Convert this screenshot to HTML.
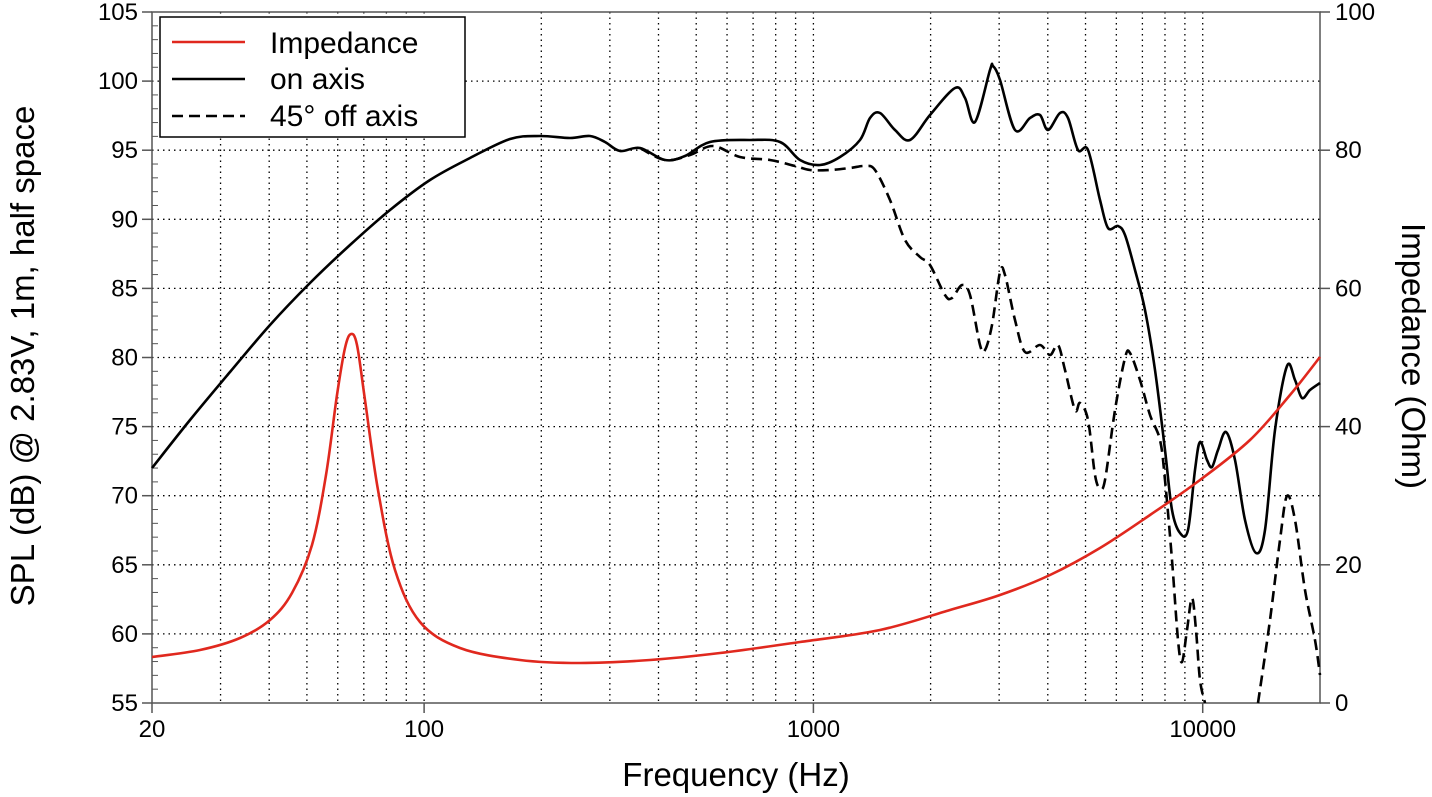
<!DOCTYPE html>
<html><head><meta charset="utf-8"><style>
html,body{margin:0;padding:0;background:#fff;}
svg{display:block;font-family:"Liberation Sans",Arial,sans-serif;}
</style></head><body>
<svg id="s" width="1432" height="797" xmlns="http://www.w3.org/2000/svg"></svg>
<script>
const s=document.getElementById('s');
const L=152,R=1320,T=12,B=703;
const xf=f=>L+389.3*Math.log10(f/20);
const yd=d=>T+(105-d)*13.82;
let h='';
const fs=[];
for(let dec of [10,100,1000,10000])for(let m=1;m<10;m++){const f=dec*m;if(f>20&&f<20000)fs.push(f);}
fs.forEach(f=>{const x=xf(f);h+=`<line x1="${x}" y1="${T}" x2="${x}" y2="${B}" stroke="#000" stroke-width="1.3" stroke-dasharray="1.5,4"/>`;});
for(let d=60;d<=100;d+=5){const y=yd(d);h+=`<line x1="${L}" y1="${y}" x2="${R}" y2="${y}" stroke="#000" stroke-width="1.3" stroke-dasharray="1.5,4"/>`;}
for(let d=56;d<105;d++){if(d%5)h+=`<line x1="${L}" y1="${yd(d)}" x2="${L+6}" y2="${yd(d)}" stroke="#555" stroke-width="1"/>`;}
h+=`<rect x="${L}" y="${T}" width="${R-L}" height="${B-T}" fill="none" stroke="#555" stroke-width="1.5"/>`;
for(let d=55;d<=105;d+=5){const y=yd(d);h+=`<line x1="${L-10}" y1="${y}" x2="${L}" y2="${y}" stroke="#555" stroke-width="1.5"/><text x="${L-14}" y="${y+8}" font-size="24" text-anchor="end">${d}</text>`;}
for(let o=0;o<=100;o+=20){const y=B-o*6.91;h+=`<line x1="${R}" y1="${y}" x2="${R+10}" y2="${y}" stroke="#555" stroke-width="1.5"/><text x="${R+15}" y="${y+8}" font-size="24">${o}</text>`;}
[[20,'20'],[100,'100'],[1000,'1000'],[10000,'10000']].forEach(([f,t])=>{const x=xf(f);h+=`<line x1="${x}" y1="${B}" x2="${x}" y2="${B+10}" stroke="#555" stroke-width="1.5"/><text x="${x}" y="${B+34}" font-size="24" text-anchor="middle">${t}</text>`;});
h+=`<text x="736" y="786" font-size="33" text-anchor="middle">Frequency (Hz)</text>`;
h+=`<text transform="translate(34,356) rotate(-90)" font-size="33" text-anchor="middle">SPL (dB) @ 2.83V, 1m, half space</text>`;
h+=`<text transform="translate(1402,356) rotate(90)" font-size="33" text-anchor="middle">Impedance (Ohm)</text>`;
function path(p){let d=`M${p[0][0]},${p[0][1]}`;for(let i=0;i<p.length-1;i++){const p0=p[i-1]||p[i],p1=p[i],p2=p[i+1],p3=p[i+2]||p2;d+=` C${p1[0]+(p2[0]-p0[0])/6},${p1[1]+(p2[1]-p0[1])/6} ${p2[0]-(p3[0]-p1[0])/6},${p2[1]-(p3[1]-p1[1])/6} ${p2[0]},${p2[1]}`;}return d;}
const on=[[152,468],[190,420],[230,372],[270,325],[310,283],[350,245],[390,210],[430,180],[470,158],[510,139],[540,136],[570,138],[590,136],[605,142],[620,151],[640,148],[665,160],[685,156],[710,142],[750,140],[780,142],[800,160],[820,165],[840,157],[860,140],[870,118],[880,113],[895,130],[910,140],[930,115],[955,88],[965,98],[975,122],[990,70],[993,66],[1000,80],[1015,130],[1030,118],[1040,115],[1048,130],[1060,113],[1068,118],[1078,150],[1088,150],[1100,200],[1108,228],[1118,226],[1125,235],[1135,270],[1145,310],[1155,370],[1165,450],[1172,510],[1180,533],[1188,530],[1195,470],[1200,442],[1207,460],[1212,467],[1218,450],[1226,432],[1235,460],[1245,520],[1256,553],[1265,530],[1275,430],[1287,366],[1295,380],[1302,398],[1310,390],[1320,383]];
const off1=[[640,148],[665,160],[690,155],[713,146],[740,157],[770,160],[795,166],[810,170],[830,170],[850,168],[865,166],[875,170],[890,200],[905,240],[920,257],[930,265],[945,295],[952,298],[962,285],[970,295],[980,345],[985,350],[992,325],[1000,272],[1005,275],[1015,320],[1025,352],[1040,345],[1050,355],[1058,345],[1065,370],[1075,410],[1080,403],[1088,420],[1095,475],[1100,488],[1105,480],[1115,410],[1125,358],[1130,353],[1140,380],[1150,415],[1160,440],[1165,480],[1172,560],[1178,640],[1182,662],[1187,630],[1192,598],[1196,630],[1200,680],[1205,703]];
const off2=[[1258,703],[1270,620],[1280,540],[1287,496],[1295,520],[1305,590],[1315,640],[1320,675]];
const imp=[[152,657],[200,650],[240,638],[270,620],[292,593],[312,545],[326,475],[337,395],[345,348],[351,334],[357,345],[365,400],[378,490],[395,570],[420,622],[460,648],[520,660],[580,663],[650,660],[720,653],[800,642],[880,630],[950,610],[1000,595],[1050,575],[1100,548],[1150,515],[1200,480],[1250,440],[1290,395],[1320,357]];
h+=`<path d="${path(off1)}" fill="none" stroke="#000" stroke-width="2.6" stroke-dasharray="11,6"/>`;
h+=`<path d="${path(off2)}" fill="none" stroke="#000" stroke-width="2.6" stroke-dasharray="11,6"/>`;
h+=`<path d="${path(on)}" fill="none" stroke="#000" stroke-width="2.6"/>`;
h+=`<path d="${path(imp)}" fill="none" stroke="#e0281e" stroke-width="2.6"/>`;
h+=`<rect x="160" y="17" width="305" height="120" fill="#fff" stroke="#000" stroke-width="1.5"/>`;
h+=`<line x1="172" y1="42" x2="245" y2="42" stroke="#e0281e" stroke-width="2.6"/><text x="270" y="53" font-size="30">Impedance</text>`;
h+=`<line x1="172" y1="79" x2="245" y2="79" stroke="#000" stroke-width="2.6"/><text x="270" y="89" font-size="30">on axis</text>`;
h+=`<line x1="172" y1="116" x2="245" y2="116" stroke="#000" stroke-width="2.6" stroke-dasharray="11,6"/><text x="270" y="126" font-size="30">45° off axis</text>`;
s.innerHTML=h;
</script>
</body></html>
